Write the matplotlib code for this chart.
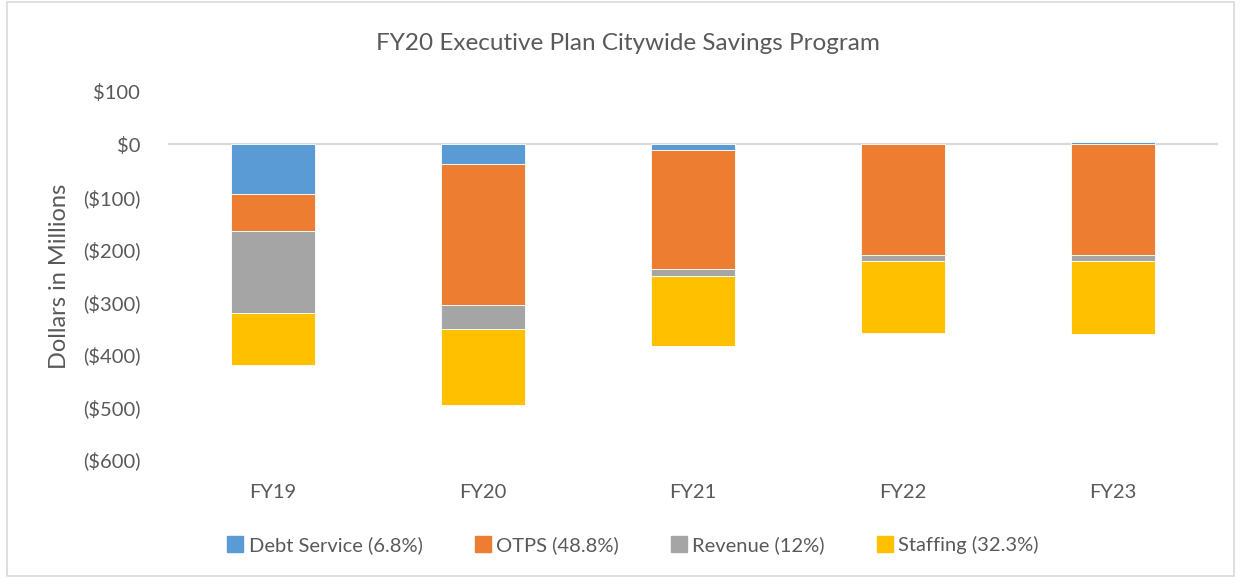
import matplotlib
matplotlib.use("Agg")
import matplotlib.pyplot as plt
from matplotlib.patches import Rectangle
from matplotlib.lines import Line2D
import numpy as np

plt.rcParams['font.family'] = ['Lato', 'DejaVu Sans']

categories = ["FY19", "FY20", "FY21", "FY22", "FY23"]
debt_service = [-95, -37, -11, 0, 5]
otps = [-70, -269, -226, -210, -210]
revenue = [-156, -46, -13, -13, -13]
staffing = [-99, -144, -134, -137, -139]

series_names = ["Debt Service (6.8%)", "OTPS (48.8%)", "Revenue (12%)", "Staffing (32.3%)"]
series_values = [debt_service, otps, revenue, staffing]
colors = ["#5B9BD5", "#ED7D31", "#A5A5A5", "#FFC000"]

yticks = [100, 0, -100, -200, -300, -400, -500, -600]

def money(v):
    return f"${v:,.0f}" if v >= 0 else f"(${-v:,.0f})"

fig = plt.figure(figsize=(12.41, 5.78), dpi=100)
ax = fig.add_axes([168/1241, 1 - 459.5/578, (1218-168)/1241, (459.5-91.7)/578])

x = np.arange(len(categories))
pos_base = np.zeros(len(categories))
neg_base = np.zeros(len(categories))
for name, vals, c in zip(series_names, series_values, colors):
    vals = np.array(vals, dtype=float)
    bottoms = np.where(vals >= 0, pos_base, neg_base)
    ax.bar(x, vals, width=0.4, bottom=bottoms, color=c, edgecolor='white',
           linewidth=0.6, label=name, zorder=2)
    pos_base += np.where(vals >= 0, vals, 0)
    neg_base += np.where(vals < 0, vals, 0)

ax.axhline(0, color='#D9D9D9', lw=1.6, zorder=1)
ax.set_xlim(-0.5, len(categories) - 0.5)
ax.set_ylim(-600, 100)
ax.set_yticks(yticks)
ax.set_yticklabels([money(v) for v in yticks])
ax.set_xticks(x)
ax.set_xticklabels(categories)
for s in ax.spines.values():
    s.set_visible(False)
ax.tick_params(axis='both', length=0, colors='#595959', labelsize=14.5)
ax.tick_params(axis='y', pad=20)
ax.tick_params(axis='x', pad=18)

fig.text(628/1241, 1 - 44/578, "FY20 Executive Plan Citywide Savings Program",
         ha='center', va='center', fontsize=17.5, color='#595959')
fig.text(60/1241, 1 - 276/578, "Dollars in Millions", rotation=90,
         ha='center', va='center', fontsize=17, color='#595959')

handles = [Line2D([0], [0], marker='s', linestyle='none', markersize=11,
                  markerfacecolor=c, markeredgecolor=c) for c in colors]
leg = fig.legend(handles, series_names, loc='center', bbox_to_anchor=(632/1241, 1 - 545/578),
                 ncol=4, frameon=False, fontsize=14.5, handletextpad=0.15,
                 columnspacing=2.5, handlelength=1.0, labelcolor='#595959')

fig.add_artist(Rectangle((7/1241, 2/578), 1 - 14/1241, 1 - 4/578, transform=fig.transFigure,
                         fill=False, edgecolor='#D9D9D9', lw=1.2))

fig.savefig("out.png", dpi=100)
